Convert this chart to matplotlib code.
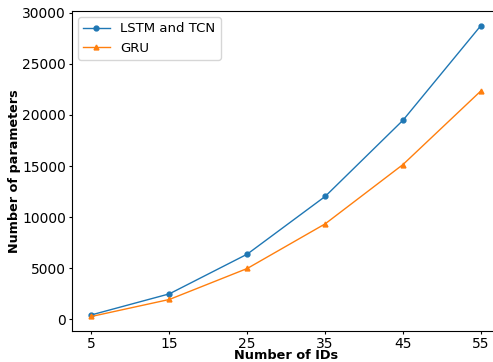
import matplotlib
matplotlib.use("Agg")
import matplotlib.pyplot as plt

num_ids = [5, 15, 25, 35, 45, 55]
lstm_tcn_params = [420, 2480, 6370, 12020, 19490, 28760]
gru_params = [265, 1930, 4965, 9335, 15150, 22360]

fig = plt.figure(figsize=(4.93, 3.62), dpi=100)
ax = fig.add_axes([0.146, 0.0856, 0.869, 0.884])

ax.plot(num_ids, lstm_tcn_params, marker="o", markersize=3.5, linewidth=1.0,
        color="#1f77b4", label="LSTM and TCN")
ax.plot(num_ids, gru_params, marker="^", markersize=3.5, linewidth=1.0,
        color="#ff7f0e", label="GRU")

ax.set_xticks(num_ids)
ax.tick_params(labelsize=10, length=2.2, pad=2)
ax.set_xlabel("Number of IDs", fontsize=9.3, fontweight="bold", labelpad=-1)
ax.set_ylabel("Number of parameters", fontsize=9.2, fontweight="bold", labelpad=1)
ax.legend(loc="upper left", fontsize=9.5, borderaxespad=0.45)

fig.savefig("out.png", dpi=100)
